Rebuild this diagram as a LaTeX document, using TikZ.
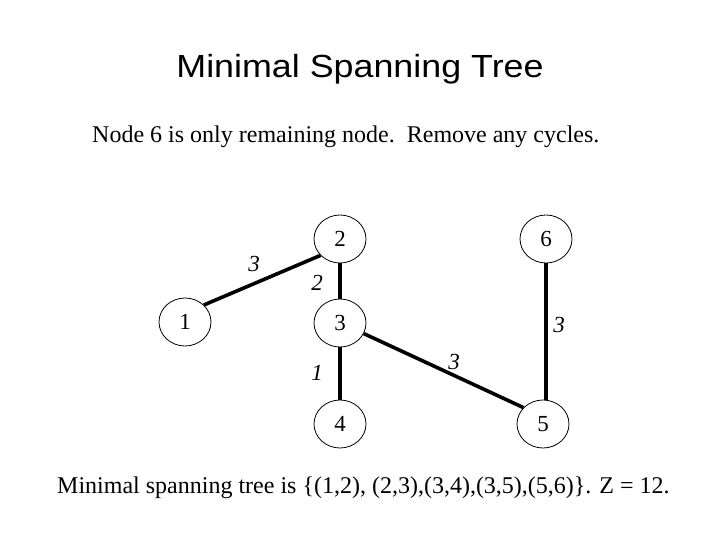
\documentclass[tikz,border=0pt]{standalone}
\usepackage{fontspec}
\setmainfont{Liberation Serif}
\newfontfamily\arialfont[FakeStretch=1.12]{Liberation Sans}
\usetikzlibrary{shapes.geometric}
\tikzset{
  vert/.style={draw, ellipse, line width=0.8pt, minimum width=52pt, minimum height=48pt, inner sep=0pt, font=\fontsize{23}{25}\selectfont},
  edgeline/.style={line width=3.6pt},
  wlabel/.style={inner sep=0pt, font=\fontsize{23}{25}\selectfont\itshape},
  txt/.style={inner sep=0pt, anchor=base west}
}
\begin{document}
\begin{tikzpicture}[x=1pt,y=-1pt]
\useasboundingbox (0,0) rectangle (720,540);
\node[inner sep=0pt, anchor=base, font=\arialfont\fontsize{32}{36}\selectfont] (title) at (360,78) {Minimal Spanning Tree};
\node[txt, font=\fontsize{24}{28}\selectfont] (sub) at (92,143) {Node 6 is only remaining node.\ \ Remove any cycles.};
\node[txt, font=\fontsize{24}{28}\selectfont] (res) at (57,493) {Minimal spanning tree is \{(1,2), (2,3),(3,4),(3,5),(5,6)\}. Z = 12.};

\node[vert] (n1) at (185,322) {1};
\node[vert] (n2) at (340,239) {2};
\node[vert] (n3) at (340,323) {3};
\node[vert] (n4) at (340,424) {4};
\node[vert] (n5) at (543,424) {5};
\node[vert] (n6) at (546,239) {6};

\draw[edgeline] (n1.42) -- (n2.220);
\draw[edgeline] (n2.south) -- (n3.north);
\draw[edgeline] (n3.south) -- (n4.north);
\draw[edgeline] (n3.-24) -- (n5.140);
\draw[edgeline] (n6.south) -- (n6.south |- n5.north);

\node[wlabel] (w12) at (254,264) {3};
\node[wlabel] (w23) at (317,283) {2};
\node[wlabel] (w34) at (317,373) {1};
\node[wlabel] (w35) at (454,362) {3};
\node[wlabel] (w56) at (559,325) {3};
\end{tikzpicture}
\end{document}
